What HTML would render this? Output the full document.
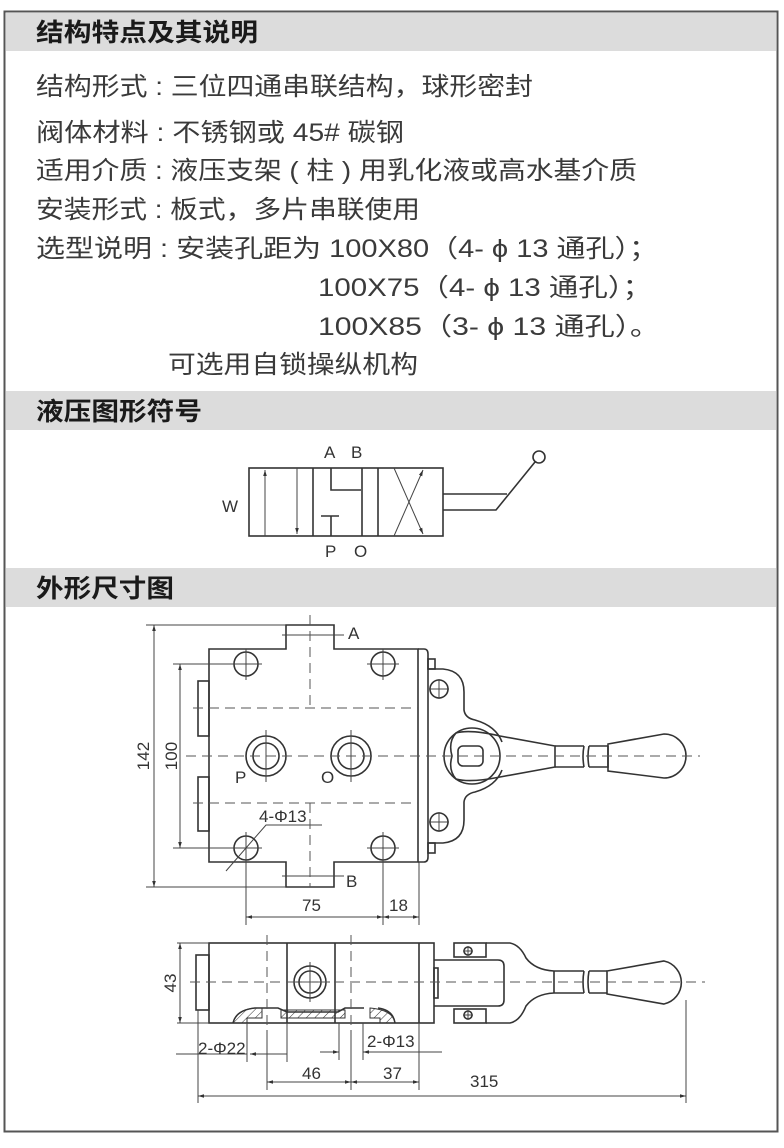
<!DOCTYPE html>
<html><head><meta charset="utf-8"><style>
html,body{margin:0;padding:0;background:#fff;}
svg{display:block;}
.t{font-family:"Liberation Sans","Noto Sans CJK SC",sans-serif;fill:#3a3a3a;font-size:25px;}
.h{font-family:"Liberation Sans","Noto Sans CJK SC",sans-serif;fill:#1a1a1a;font-size:25px;font-weight:bold;}
.d{font-family:"Liberation Sans",sans-serif;fill:#333;font-size:17px;}
.ln{stroke:#333;stroke-width:1.6;fill:none;}
.th{stroke:#444;stroke-width:1;fill:none;}
.ds{stroke:#555;stroke-width:1;fill:none;stroke-dasharray:10 6;}
</style></head><body>
<svg width="784" height="1148" viewBox="0 0 784 1148" xmlns="http://www.w3.org/2000/svg">
<defs>
<marker id="ar" viewBox="0 0 10 10" refX="10" refY="5" markerWidth="8" markerHeight="6" orient="auto-start-reverse" markerUnits="userSpaceOnUse"><path d="M0,2 L10,5 L0,8 z" fill="#333"/></marker>
<pattern id="hat" width="6" height="6" patternUnits="userSpaceOnUse" patternTransform="rotate(45)"><line x1="0" y1="0" x2="0" y2="6" stroke="#333" stroke-width="1"/></pattern>
</defs>
<rect x="4.5" y="11.5" width="773" height="1120" fill="#fff" stroke="#555" stroke-width="2"/>
<rect x="6" y="13" width="770" height="38" fill="#dcdcdc"/>
<rect x="6" y="391" width="770" height="39" fill="#dcdcdc"/>
<rect x="6" y="568" width="770" height="39" fill="#dcdcdc"/>
<text class="h" x="36" y="41" textLength="222" lengthAdjust="spacingAndGlyphs">结构特点及其说明</text>
<text class="h" x="36" y="420" textLength="166" lengthAdjust="spacingAndGlyphs">液压图形符号</text>
<text class="h" x="36" y="597" textLength="138" lengthAdjust="spacingAndGlyphs">外形尺寸图</text>

<text class="t" x="36" y="95" textLength="497" lengthAdjust="spacingAndGlyphs">结构形式 : 三位四通串联结构，球形密封</text>
<text class="t" x="36" y="141" textLength="368" lengthAdjust="spacingAndGlyphs">阀体材料 : 不锈钢或 45# 碳钢</text>
<text class="t" x="36" y="179" textLength="601" lengthAdjust="spacingAndGlyphs">适用介质 : 液压支架 ( 柱 ) 用乳化液或高水基介质</text>
<text class="t" x="36" y="218" textLength="384" lengthAdjust="spacingAndGlyphs">安装形式 : 板式，多片串联使用</text>
<text class="t" x="36" y="257" textLength="622" lengthAdjust="spacingAndGlyphs">选型说明 : 安装孔距为 100X80（4- ϕ 13 通孔）；</text>
<text class="t" x="318" y="296" textLength="334" lengthAdjust="spacingAndGlyphs">100X75（4- ϕ 13 通孔）；</text>
<text class="t" x="318" y="335" textLength="342" lengthAdjust="spacingAndGlyphs">100X85（3- ϕ 13 通孔）。</text>
<text class="t" x="168" y="373" textLength="250" lengthAdjust="spacingAndGlyphs">可选用自锁操纵机构</text>

<!-- hydraulic symbol -->
<g class="ln" stroke-width="1.8">
<rect x="249" y="468" width="194" height="68"/>
<line x1="313" y1="468" x2="313" y2="536"/>
<line x1="362" y1="468" x2="362" y2="536"/>
<line x1="378" y1="468" x2="378" y2="536"/>
<polyline points="331,468 331,490 361,490"/>
<line x1="331" y1="536" x2="331" y2="516"/>
<line x1="321" y1="516" x2="339" y2="516"/>
<polyline points="443,494 507,494"/>
<polyline points="443,510 496,510 535,462"/>
<circle cx="539" cy="457" r="6"/>
</g>
<g class="th">
<line x1="265" y1="536" x2="265" y2="470" marker-end="url(#ar)"/>
<line x1="297" y1="468" x2="297" y2="534" marker-end="url(#ar)"/>
<line x1="394" y1="536" x2="423" y2="470" marker-end="url(#ar)"/>
<line x1="394" y1="468" x2="423" y2="534" marker-end="url(#ar)"/>
</g>
<text class="d" x="324" y="458">A</text>
<text class="d" x="351" y="458">B</text>
<text class="d" x="325" y="557">P</text>
<text class="d" x="354" y="557">O</text>
<text class="d" x="222" y="512">W</text>

<!-- top view -->
<g class="ln">
<path d="M209,649 H286 V625 H334 V649 H418 V862 H334 V887 H286 V862 H209 Z"/>
<path d="M418,649 H424 Q428,649 428,654 V857 Q428,862 424,862 H418"/>
<rect x="198" y="681" width="11" height="55"/>
<rect x="198" y="777" width="11" height="54"/>
<circle cx="246" cy="664" r="12"/><circle cx="383" cy="664" r="12"/>
<circle cx="246" cy="848" r="12"/><circle cx="383" cy="848" r="12"/>
<circle cx="266" cy="756" r="20"/><circle cx="266" cy="756" r="13"/>
<circle cx="351" cy="756" r="20"/><circle cx="351" cy="756" r="13"/>
<rect x="428" y="659" width="7" height="10"/><rect x="428" y="843" width="7" height="10"/>
<path d="M428,669 H443 Q464,671 464,692 V710 Q465,718 475,720 Q496,726 502,742 M502,770 Q496,786 475,792 Q465,794 464,802 V820 Q464,841 443,843 H428"/>
<circle cx="472" cy="756" r="28"/>
<circle cx="439" cy="689" r="9"/><circle cx="439" cy="822" r="9"/>
<path d="M456,733 Q470,729 500,736 L555,746 V767 L500,777 Q470,783 456,779 Q448,770 452,756 Q448,742 456,733 Z"/>
<rect x="458" y="746" width="25" height="20" rx="5"/>
<path d="M555,746 H584 M555,767 H584 M584,746 q-2,10 0,21 M589,746 q-2,10 0,21 M589,746 H608 M589,767 H608 V746"/>
<path d="M608,744 L664,734 A22,22 0 0 1 664,778 L608,771 Z"/>
</g>
<g class="th">
<line x1="246" y1="649" x2="246" y2="680"/><line x1="230" y1="664" x2="262" y2="664"/>
<line x1="383" y1="649" x2="383" y2="680"/><line x1="367" y1="664" x2="399" y2="664"/>
<line x1="383" y1="832" x2="383" y2="925"/><line x1="367" y1="848" x2="399" y2="848"/>
<line x1="246" y1="832" x2="246" y2="925"/><line x1="230" y1="848" x2="262" y2="848"/>
<line x1="266" y1="730" x2="266" y2="782"/><line x1="351" y1="730" x2="351" y2="782"/>
<line x1="429" y1="689" x2="449" y2="689"/><line x1="439" y1="679" x2="439" y2="699"/>
<line x1="429" y1="822" x2="449" y2="822"/><line x1="439" y1="812" x2="439" y2="832"/>
<line x1="146" y1="625" x2="286" y2="625"/><line x1="146" y1="887" x2="286" y2="887"/>
<line x1="154" y1="625" x2="154" y2="887" marker-start="url(#ar)" marker-end="url(#ar)"/>
<line x1="173" y1="664" x2="234" y2="664"/><line x1="173" y1="848" x2="234" y2="848"/>
<line x1="180" y1="664" x2="180" y2="848" marker-start="url(#ar)" marker-end="url(#ar)"/>
<line x1="419" y1="862" x2="419" y2="925"/>
<line x1="246" y1="917" x2="383" y2="917" marker-start="url(#ar)" marker-end="url(#ar)"/>
<line x1="383" y1="917" x2="419" y2="917" marker-start="url(#ar)" marker-end="url(#ar)"/>
<line x1="282" y1="635" x2="344" y2="635"/><line x1="282" y1="876" x2="344" y2="876"/>
<polyline points="226,871 266,825 322,825"/>
</g>
<g class="ds">
<line x1="193" y1="708" x2="418" y2="708"/><line x1="193" y1="803" x2="418" y2="803"/>
<line x1="186" y1="756" x2="700" y2="756"/>
<line x1="310" y1="615" x2="310" y2="708"/><line x1="310" y1="803" x2="310" y2="887"/>
</g>
<text class="d" x="348" y="639">A</text>
<text class="d" x="346" y="887">B</text>
<text class="d" x="235" y="783">P</text>
<text class="d" x="321" y="783">O</text>
<text class="d" x="259" y="822">4-Φ13</text>
<text class="d" x="302" y="911">75</text>
<text class="d" x="389" y="911">18</text>
<text class="d" transform="translate(149,756) rotate(-90)" text-anchor="middle">142</text>
<text class="d" transform="translate(177,756) rotate(-90)" text-anchor="middle">100</text>

<!-- side view -->
<g class="ln">
<rect x="209" y="943" width="225" height="80"/>
<rect x="196" y="955" width="13" height="55"/>
<line x1="287" y1="943" x2="287" y2="1023"/><line x1="335" y1="943" x2="335" y2="1023"/>
<line x1="419" y1="943" x2="419" y2="1023"/>
<rect x="434" y="968" width="4" height="30"/>
<circle cx="310" cy="982" r="16"/><circle cx="310" cy="982" r="11"/>
<path d="M233,1023 Q236,1010 255,1008 H278 L287,1012 H338 L345,1008 H364 M378,1008 Q393,1010 395,1023" />
<rect x="454" y="943" width="32" height="14"/><rect x="454" y="1009" width="32" height="14"/>
<circle cx="468" cy="951" r="4"/><circle cx="468" cy="1015" r="4"/>
<path d="M434,960 H498 Q504,960 504,966 V1000 Q504,1006 498,1006 H434"/>
<path d="M486,943 H510 Q520,945 526,958 Q535,970 554,971 M486,1023 H510 Q520,1021 526,1006 Q535,994 554,993"/>
<path d="M554,971 V993 M554,971 H584 M554,993 H584 M584,971 q-2,11 0,22 M589,971 q-2,11 0,22 M589,971 H607 M589,993 H607"/>
<path d="M607,971 L664,961 A22,22 0 0 1 664,1004 L607,994 Z"/>
</g>
<path d="M233,1023 Q236,1010 255,1008 H262 V1018 H247 V1023 Z" fill="url(#hat)" stroke="#333"/>
<path d="M281,1010 H345 L345,1018 H281 Z" fill="url(#hat)" stroke="#333"/>
<path d="M370,1008 Q393,1010 395,1023 H380 V1018 H370 Z" fill="url(#hat)" stroke="#333"/>
<g class="th">
<line x1="177" y1="943" x2="209" y2="943"/><line x1="177" y1="1023" x2="209" y2="1023"/>
<line x1="180" y1="943" x2="180" y2="1023" marker-start="url(#ar)" marker-end="url(#ar)"/>
<line x1="198" y1="1010" x2="198" y2="1103"/>
<line x1="686" y1="1000" x2="686" y2="1103"/>
<line x1="198" y1="1096" x2="686" y2="1096" marker-start="url(#ar)" marker-end="url(#ar)"/>
<line x1="247" y1="1023" x2="247" y2="1062"/><line x1="287" y1="1023" x2="287" y2="1062"/>
<line x1="176" y1="1054" x2="247" y2="1054"/>
<line x1="250" y1="1054" x2="287" y2="1054" marker-start="url(#ar)"/>
<line x1="339" y1="1023" x2="339" y2="1060"/><line x1="363" y1="1023" x2="363" y2="1060"/>
<line x1="320" y1="1052" x2="339" y2="1052" marker-end="url(#ar)"/>
<line x1="363" y1="1052" x2="442" y2="1052" marker-start="url(#ar)"/>
<line x1="267" y1="1030" x2="267" y2="1090"/><line x1="351" y1="1030" x2="351" y2="1090"/>
<line x1="419" y1="1023" x2="419" y2="1090"/>
<line x1="267" y1="1082" x2="351" y2="1082" marker-start="url(#ar)" marker-end="url(#ar)"/>
<line x1="351" y1="1082" x2="419" y2="1082" marker-start="url(#ar)" marker-end="url(#ar)"/>
<line x1="468" y1="946" x2="468" y2="956"/><line x1="463" y1="951" x2="473" y2="951"/>
<line x1="468" y1="1010" x2="468" y2="1020"/><line x1="463" y1="1015" x2="473" y2="1015"/>
<line x1="290" y1="982" x2="330" y2="982"/><line x1="310" y1="962" x2="310" y2="1002"/>
</g>
<g class="ds">
<line x1="190" y1="982" x2="705" y2="982"/>
<line x1="267" y1="935" x2="267" y2="1030"/><line x1="351" y1="935" x2="351" y2="1030"/>
</g>
<text class="d" x="198" y="1054">2-Φ22</text>
<text class="d" x="367" y="1047">2-Φ13</text>
<text class="d" x="302" y="1079">46</text>
<text class="d" x="383" y="1079">37</text>
<text class="d" x="470" y="1087">315</text>
<text class="d" transform="translate(176,983) rotate(-90)" text-anchor="middle">43</text>
</svg>
</body></html>
